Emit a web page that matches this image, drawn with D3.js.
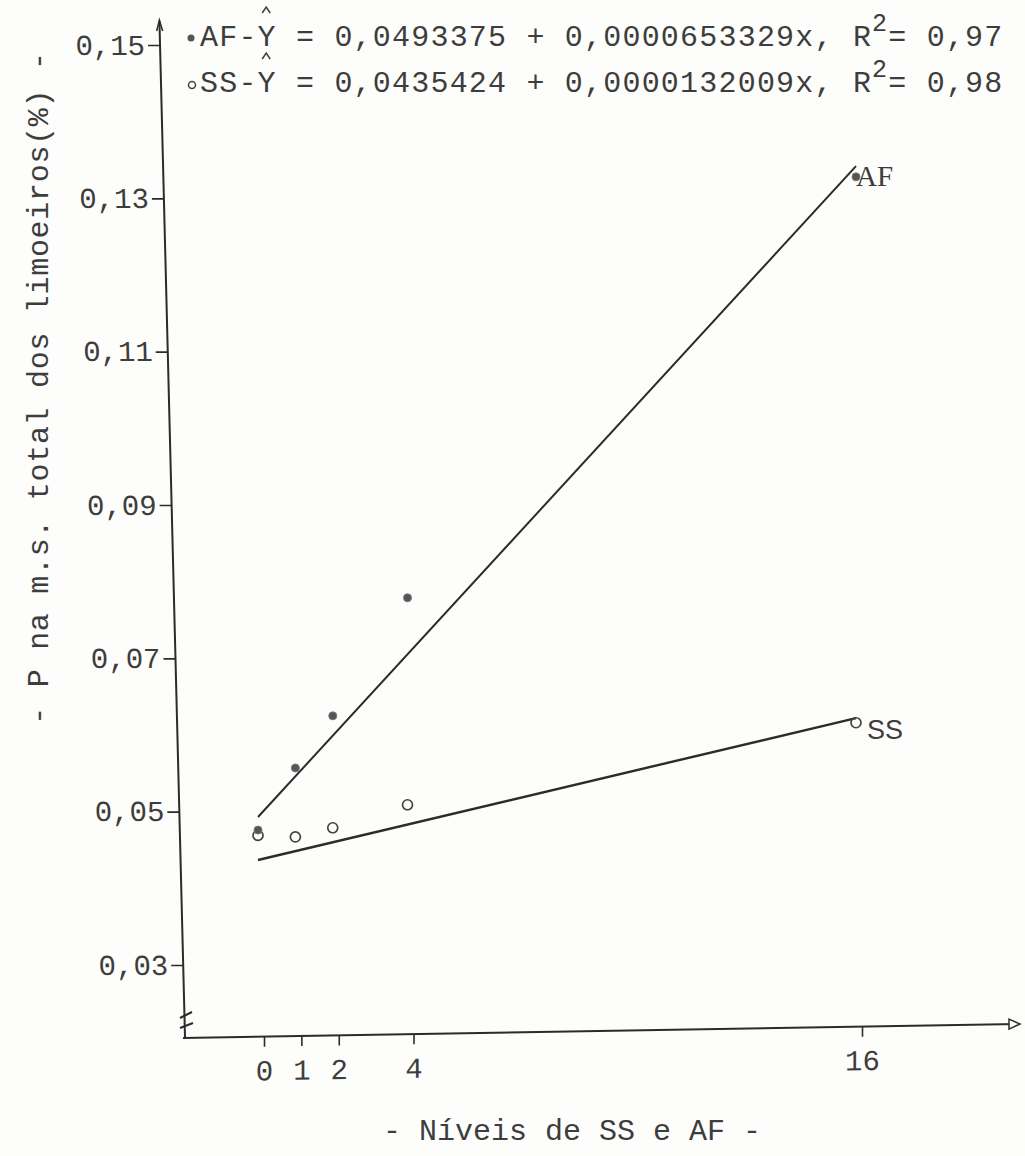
<!DOCTYPE html>
<html>
<head>
<meta charset="utf-8">
<script src="https://cdn.jsdelivr.net/npm/d3@7"></script>
<style>
  html, body { margin: 0; padding: 0; background: #fdfdfb; }
  svg { display: block; }
</style>
</head>
<body>
<svg id="chart" width="1025" height="1156"></svg>
<script>
// ---------- data ----------
const levels   = [0, 1, 2, 4, 16];
const afValues = [0.0476, 0.0557, 0.0625, 0.0779, 0.1328];
const ssValues = [0.0469, 0.0467, 0.0479, 0.0509, 0.0616];

const fitLevels = [0, 16];
const afFit = [0.0493, 0.1342];
const ssFit = [0.0437, 0.0622];

const yTicks = [0.03, 0.05, 0.07, 0.09, 0.11, 0.13, 0.15];
const xTicks = [0, 1, 2, 4, 16];

const eqSeries     = ["AF", "SS"];
const eqIntercepts = ["0,0493375", "0,0435424"];
const eqSlopes     = ["0,0000653329", "0,0000132009"];
const eqR2         = ["0,97", "0,98"];

const yTitle = "- P na m.s. total dos limoeiros(%) -";
const xTitle = "- Níveis de SS e AF -";

// ---------- setup ----------
const svg = d3.select("#chart");
const ink = "#2b2b2b", textInk = "#3d3d3d";
const mono = "Liberation Mono";
svg.append("rect").attr("width", 1025).attr("height", 1156).attr("fill", "#fdfdfb");

const x = d3.scaleLinear().domain([0, 16]).range([258, 856]);
const y = d3.scaleLinear().domain([0.03, 0.15]).range([965, 45]);

const loc = d3.formatLocale({decimal: ",", thousands: ".", grouping: [3], currency: ["", ""]});
const fmtY = loc.format(".2f");

// ---------- y axis (slightly slanted, as typed) ----------
const skX = Math.atan(25 / 993) * 180 / Math.PI;
const gy = svg.append("g").attr("transform", `translate(158.9,0) skewX(${skX})`);
gy.call(d3.axisLeft(y).tickValues(yTicks).tickFormat(fmtY).tickSize(12).tickPadding(3).tickSizeOuter(0));
gy.select(".domain").remove();
gy.selectAll(".tick line").attr("stroke", ink).attr("stroke-width", 1.6);
gy.selectAll(".tick text")
  .attr("font-family", mono).attr("font-size", 29).attr("fill", textInk);
gy.append("line").attr("x1", 0).attr("x2", 0).attr("y1", 21).attr("y2", 1038)
  .attr("stroke", ink).attr("stroke-width", 2);
gy.append("path").attr("d", "M-3,31 L0,20 L3,31").attr("fill", "none")
  .attr("stroke", ink).attr("stroke-width", 1.5);

// axis break marks
svg.append("line").attr("x1", 180).attr("y1", 1018).attr("x2", 192).attr("y2", 1012)
  .attr("stroke", ink).attr("stroke-width", 2);
svg.append("line").attr("x1", 180).attr("y1", 1028).attr("x2", 193).attr("y2", 1023)
  .attr("stroke", ink).attr("stroke-width", 2);

// ---------- x axis (slightly slanted) ----------
const skY = Math.atan(-14 / 835) * 180 / Math.PI;
const gx = svg.append("g").attr("transform", `translate(6,1041) skewY(${skY})`);
gx.call(d3.axisBottom(x).tickValues(xTicks).tickFormat(d3.format("d")).tickSize(10).tickPadding(13).tickSizeOuter(0));
gx.select(".domain").remove();
gx.selectAll(".tick line").attr("stroke", ink).attr("stroke-width", 1.6);
gx.selectAll(".tick text")
  .attr("font-family", mono).attr("font-size", 29).attr("fill", textInk);
gx.append("line").attr("x1", 177).attr("x2", 1012).attr("y1", 0).attr("y2", 0)
  .attr("stroke", ink).attr("stroke-width", 2);
gx.append("path").attr("d", "M1003,-5 L1014,0 L1003,5 Z").attr("fill", "#fdfdfb")
  .attr("stroke", ink).attr("stroke-width", 1.5);

// ---------- titles ----------
svg.append("text")
  .attr("transform", "translate(48,388) rotate(-90)")
  .attr("text-anchor", "middle")
  .attr("font-family", mono).attr("font-size", 30).attr("letter-spacing", 0.7)
  .attr("fill", textInk).text(yTitle);

svg.append("text")
  .attr("x", 572).attr("y", 1140).attr("text-anchor", "middle")
  .attr("font-family", mono).attr("font-size", 30)
  .attr("fill", textInk).text(xTitle);

// ---------- fitted lines ----------
const line = d3.line().x(d => x(d[0])).y(d => y(d[1]));
svg.append("path").datum(d3.zip(fitLevels, afFit)).attr("d", line)
  .attr("fill", "none").attr("stroke", ink).attr("stroke-width", 2);
svg.append("path").datum(d3.zip(fitLevels, ssFit)).attr("d", line)
  .attr("fill", "none").attr("stroke", ink).attr("stroke-width", 2.4);

// ---------- points ----------
svg.append("g").selectAll("circle").data(d3.zip(levels, ssValues)).join("circle")
  .attr("cx", d => x(d[0])).attr("cy", d => y(d[1])).attr("r", 5)
  .attr("fill", "none").attr("stroke", "#444").attr("stroke-width", 1.7);
svg.append("g").selectAll("circle").data(d3.zip(levels, afValues)).join("circle")
  .attr("cx", d => x(d[0])).attr("cy", d => y(d[1])).attr("r", 4)
  .attr("fill", "#555").attr("stroke", "#777").attr("stroke-width", 1);

// end labels
svg.append("text").attr("x", 856).attr("y", 186)
  .attr("font-family", "Liberation Serif").attr("font-size", 29).attr("fill", textInk).text("AF");
svg.append("text").attr("x", 867).attr("y", 739)
  .attr("font-family", "Liberation Sans").attr("font-size", 27).attr("fill", textInk).text("SS");

// ---------- equations ----------
const eqBase = [46, 92];
eqSeries.forEach((s, i) => {
  const t = svg.append("text").attr("x", 200).attr("y", eqBase[i])
    .attr("font-family", mono).attr("font-size", 30).attr("letter-spacing", 1.2)
    .attr("fill", textInk);
  t.append("tspan").text(`${s}-Y = ${eqIntercepts[i]} + ${eqSlopes[i]}x, R`);
  t.append("tspan").attr("font-size", 25).attr("dy", -15).text("2");
  t.append("tspan").attr("dy", 15).text(`= ${eqR2[i]}`);
  // hat over Y
  const ext = t.node().getExtentOfChar(3);
  const cx = ext.x + ext.width / 2 - 1;
  const hy = eqBase[i] - 39;
  svg.append("path").attr("d", `M${cx - 4},${hy + 6} L${cx},${hy} L${cx + 4},${hy + 6}`)
    .attr("fill", "none").attr("stroke", textInk).attr("stroke-width", 1.5);
});
// legend markers
svg.append("circle").attr("cx", 191).attr("cy", 38).attr("r", 3.5).attr("fill", "#555");
svg.append("circle").attr("cx", 192).attr("cy", 85).attr("r", 3.5)
  .attr("fill", "none").attr("stroke", "#444").attr("stroke-width", 1.5);
</script>
</body>
</html>
